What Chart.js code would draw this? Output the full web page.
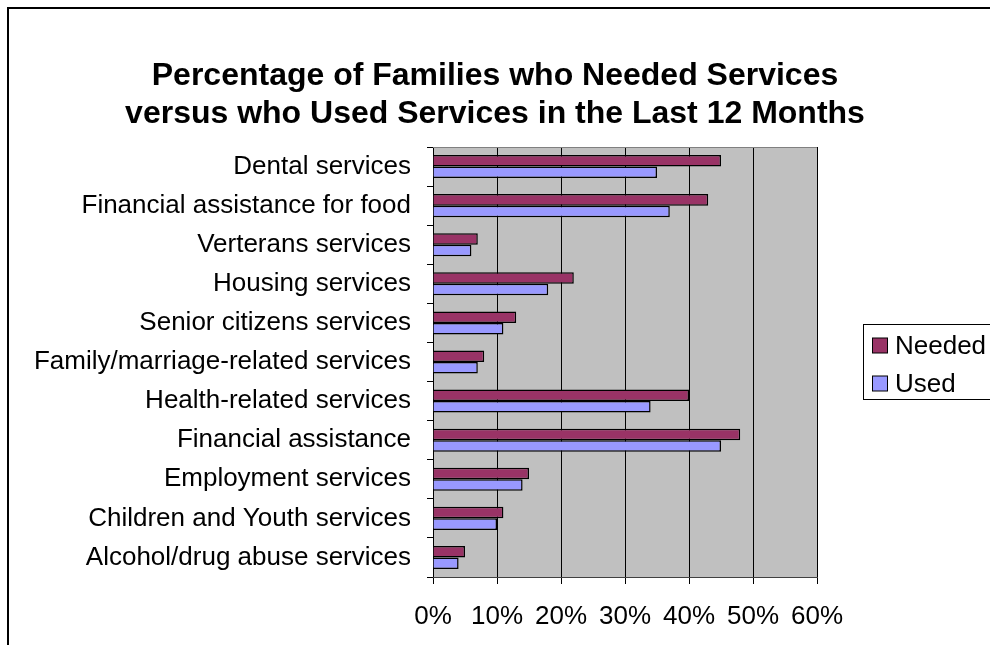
<!DOCTYPE html>
<html>
<head>
<meta charset="utf-8">
<script src="https://cdn.jsdelivr.net/npm/chart.js@4"></script>
<style>
html,body{margin:0;padding:0;background:#fff;overflow:hidden;}
#wrap{width:990px;height:645px;}
</style>
</head>
<body>
<div id="wrap"><canvas id="c" width="990" height="645"></canvas></div>
<script>
const categories = ["Dental services","Financial assistance for food","Verterans services","Housing services","Senior citizens services","Family/marriage-related services","Health-related services","Financial assistance","Employment services","Children and Youth services","Alcohol/drug abuse services"];
const needed = [45,43,7,22,13,8,40,48,15,11,5];
const used = [35,37,6,18,11,7,34,45,14,10,4];
const seriesNames = ["Needed","Used"];
const seriesColors = ["#993366","#9999FF"];
const titleLines = ["Percentage of Families who Needed Services","versus who Used Services in the Last 12 Months"];

const FONT = "'Liberation Sans', Arial, sans-serif";

const decor = {
  id: 'decor',
  beforeDraw(chart) {
    const ctx = chart.ctx, a = chart.chartArea;
    ctx.save();
    ctx.fillStyle = '#fff';
    ctx.fillRect(0,0,chart.width,chart.height);
    // outer frame
    ctx.strokeStyle = '#000';
    ctx.lineWidth = 2;
    ctx.strokeRect(8, 8, 1100, 800);
    // plot background
    ctx.fillStyle = '#C0C0C0';
    ctx.fillRect(a.left, a.top, a.right - a.left, a.bottom - a.top);
    ctx.restore();
  },
  beforeDatasetsDraw(chart) {
    const ctx = chart.ctx, a = chart.chartArea;
    ctx.save();
    ctx.strokeStyle = '#808080';
    ctx.lineWidth = 1;
    ctx.beginPath();
    ctx.moveTo(a.left, a.top + 0.5);
    ctx.lineTo(a.right, a.top + 0.5);
    ctx.stroke();
    ctx.restore();
  },
  afterDraw(chart) {
    const ctx = chart.ctx;
    ctx.save();
    // title
    ctx.fillStyle = '#000';
    ctx.font = "bold 32px " + FONT;
    ctx.textAlign = 'center';
    ctx.textBaseline = 'middle';
    titleLines.forEach((t, i) => ctx.fillText(t, 495, 76 + i * 38));
    // legend box
    ctx.strokeStyle = '#000';
    ctx.lineWidth = 1;
    ctx.strokeRect(863.5, 324.5, 200, 75);
    ctx.font = "26px " + FONT;
    ctx.textBaseline = 'middle';
    ctx.textAlign = 'left';
    const ys = [346, 384];
    chart.data.datasets.forEach((ds, i) => {
      ctx.fillStyle = ds.backgroundColor;
      ctx.fillRect(872.5, ys[i] - 8, 15, 15);
      ctx.strokeStyle = '#000';
      ctx.strokeRect(872.5, ys[i] - 8, 15, 15);
      ctx.fillStyle = '#000';
      ctx.fillText(ds.label, 895, ys[i] + 1);
    });
    ctx.restore();
  }
};

new Chart(document.getElementById('c'), {
  type: 'bar',
  data: {
    labels: categories,
    datasets: [
      { label: seriesNames[0], data: needed, backgroundColor: seriesColors[0], borderColor: '#000', borderWidth: 1.5 },
      { label: seriesNames[1], data: used, backgroundColor: seriesColors[1], borderColor: '#000', borderWidth: 1.5 }
    ]
  },
  options: {
    indexAxis: 'y',
    responsive: false,
    animation: false,
    devicePixelRatio: 1,
    categoryPercentage: 0.59,
    barPercentage: 1.0,
    layout: { padding: { left: 0, right: 173, top: 147, bottom: 0 } },
    plugins: {
      legend: { display: false },
      tooltip: { enabled: false },
      title: { display: false }
    },
    scales: {
      y: {
        type: 'category',
        offset: true,
        grid: { offset: true, drawOnChartArea: false, drawTicks: true, tickLength: 6, color: '#000' },
        border: { display: true, color: '#000', width: 1 },
        ticks: { color: '#000', padding: 16, font: { family: FONT, size: 26 }, autoSkip: false },
        afterFit(scale) { scale.width = 433; }
      },
      x: {
        min: 0, max: 60,
        grid: { color: '#000', tickLength: 7, drawOnChartArea: true },
        border: { display: true, color: '#404040', width: 1 },
        ticks: { stepSize: 10, color: '#000', padding: 17, maxRotation: 0, font: { family: FONT, size: 26 }, callback: v => v + '%' },
        afterFit(scale) { scale.height = 68; }
      }
    }
  },
  plugins: [decor]
});
</script>
</body>
</html>
